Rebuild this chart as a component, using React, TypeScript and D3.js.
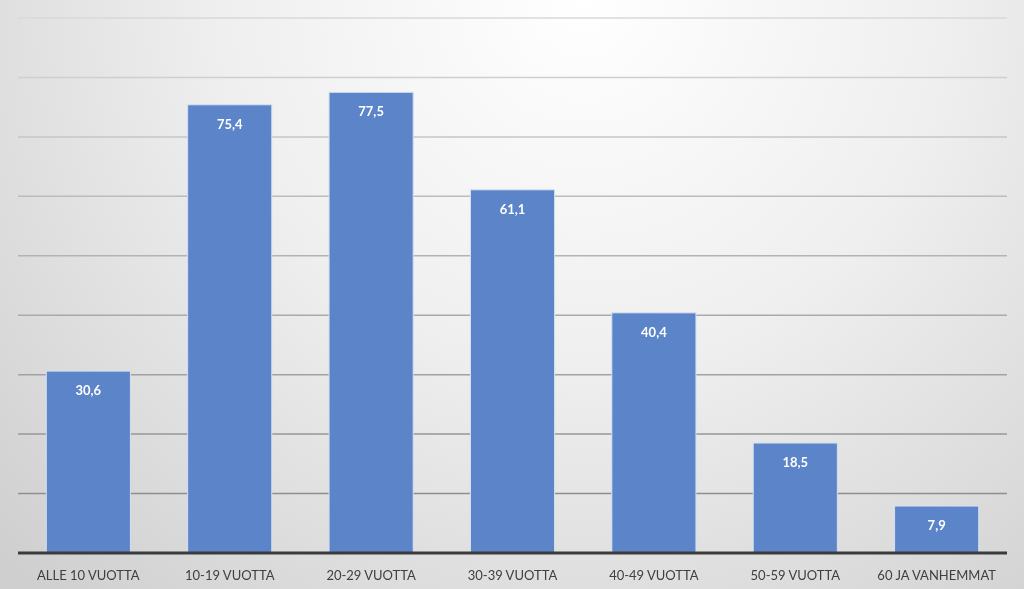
import React from "react";
import * as d3 from "d3";

const categories = [
  "ALLE 10 VUOTTA",
  "10-19 VUOTTA",
  "20-29 VUOTTA",
  "30-39 VUOTTA",
  "40-49 VUOTTA",
  "50-59 VUOTTA",
  "60 JA VANHEMMAT",
];
const values = [30.6, 75.4, 77.5, 61.1, 40.4, 18.5, 7.9];
const gridTicks = [10, 20, 30, 40, 50, 60, 70, 80, 90];

const W = 1024;
const H = 589;
const left = 18;
const right = 1007;
const top = 18;
const bottom = 553;

export default function App() {
  const x = d3.scaleBand<string>().domain(categories).range([left, right]).paddingInner(0.405).paddingOuter(0.2);
  const y = d3.scaleLinear().domain([0, 90]).range([bottom, top]);
  const gridColor = d3.scaleLinear<string>().domain([90, 10]).range(["#d8d8d8", "#8e8e8e"]);
  const fmt = (v: number) => v.toFixed(1).replace(".", ",");
  const font = "Lato, 'Open Sans', sans-serif";

  return (
    <div style={{ position: "fixed", left: 0, top: 0, width: W, height: H }}>
      <svg width={W} height={H} style={{ display: "block" }}>
        <defs>
          <radialGradient id="bg" cx="0.57" cy="0" r="1.05" gradientUnits="objectBoundingBox" gradientTransform="translate(0.57,0) scale(0.75,1.3) translate(-0.57,0)">
            <stop offset="0" stopColor="#ffffff" />
            <stop offset="0.45" stopColor="#efefef" />
            <stop offset="1" stopColor="#cfcfcf" />
          </radialGradient>
        </defs>
        <rect x={0} y={0} width={W} height={H} fill="url(#bg)" />
        {gridTicks.map((t) => (
          <line key={t} x1={left} x2={right} y1={y(t)} y2={y(t)} stroke={gridColor(t)} strokeWidth={1.5} />
        ))}
        {categories.map((c, i) => (
          <g key={c}>
            <rect
              x={x(c)!}
              y={y(values[i])}
              width={x.bandwidth()}
              height={bottom - y(values[i])}
              fill="#5b84c9"
              stroke="#d6e0f0"
              strokeWidth={1}
            />
            <text
              x={x(c)! + x.bandwidth() / 2}
              y={y(values[i]) + 24}
              textAnchor="middle"
              fill="#ffffff"
              fontFamily={font}
              fontWeight="bold"
              fontSize={13}
            >
              {fmt(values[i])}
            </text>
            <text
              x={x(c)! + x.bandwidth() / 2}
              y={580}
              textAnchor="middle"
              fill="#404040"
              fontFamily={font}
              fontSize={13}
            >
              {c}
            </text>
          </g>
        ))}
        <line x1={left} x2={right} y1={bottom} y2={bottom} stroke="#3b3b3b" strokeWidth={3} />
      </svg>
    </div>
  );
}
